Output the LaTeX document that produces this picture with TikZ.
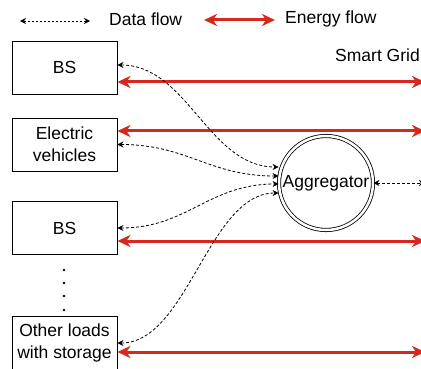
\documentclass[tikz,border=0pt]{standalone}
\usepackage{fontspec}
\setmainfont{Liberation Sans}
\definecolor{FlowRed}{RGB}{214,40,28}
\usetikzlibrary{positioning,arrows.meta,calc}
\tikzset{>=Stealth}
\tikzset{mytext/.style={font=\fontsize{17.5}{22}\selectfont}}
\tikzset{loadbox/.style={draw,line width=0.9pt,minimum width=105pt,minimum height=53pt,align=center,inner sep=1pt,mytext}}
\tikzset{aggnode/.style={circle,draw,line width=0.8pt,double,double distance=2.5pt,minimum size=94pt,inner sep=0pt,mytext}}
\tikzset{energyflow/.style={FlowRed,line width=3pt,{Stealth[length=13pt,width=12pt,inset=4pt]}-{Stealth[length=13pt,width=12pt,inset=4pt]}}}
\tikzset{dataflow/.style={line width=0.8pt,dash pattern=on 3pt off 2pt,{Stealth[length=6pt,width=6pt]}-{Stealth[length=6pt,width=6pt]}}}

\begin{document}
\begin{tikzpicture}[x=1pt, y=-1pt]
    \useasboundingbox (0,0) rectangle (421,369);
    % legend
    \coordinate (d1) at (20,21);
    \coordinate (d2) at (90,21);
    \coordinate (e1) at (204,20);
    \coordinate (e2) at (275,20);
    \draw[dataflow, dash pattern=on 2pt off 2pt] (d1) -- (d2);
    \draw[energyflow] (e1) -- (e2);
    \node[mytext, anchor=west, inner sep=0pt] (datalabel) at (109,19) {Data flow};
    \node[mytext, anchor=west, inner sep=0pt] (energylabel) at (285,19) {Energy flow};
    % loads
    \node[loadbox] (bs1) at (64.5,67.5) {BS};
    \node[loadbox] (ev) at (64.5,144.5) {Electric\\vehicles};
    \node[loadbox] (bs2) at (64.5,228) {BS};
    \node[loadbox] (other) at (64.5,343) {Other loads\\with storage};
    \foreach \y in {270,283,296,310}
        \fill (64,\y) circle (1.4pt);
    % aggregator and grid
    \node[aggnode] (agg) at (326,183) {Aggregator};
    \node[mytext, anchor=east, inner sep=0pt] (grid) at (420,55) {Smart Grid};
    \coordinate (g1) at (425,82);
    \coordinate (g2) at (425,131);
    \coordinate (g3) at (425,241);
    \coordinate (g4) at (425,352);
    \coordinate (g5) at (425,183);
    \draw[energyflow] ([yshift=-14.5pt]bs1.east) -- (g1);
    \draw[energyflow] ([yshift=13.5pt]ev.east) -- (g2);
    \draw[energyflow] ([yshift=-13pt]bs2.east) -- (g3);
    \draw[energyflow] ([yshift=-9pt]other.east) -- (g4);
    \draw[dataflow] (agg.east) -- (g5);
    % data links
    \coordinate (a1) at ([yshift=16pt]agg.west);
    \coordinate (a2) at ([yshift=7pt]agg.west);
    \coordinate (a3) at ([yshift=-1pt]agg.west);
    \coordinate (a4) at ([yshift=-10pt]agg.west);
    \draw[dataflow] ([yshift=2.5pt]bs1.east) .. controls +(70,0) and +(-70,0) .. (a1);
    \draw[dataflow] (ev.east) .. controls +(70,0) and +(-70,0) .. (a2);
    \draw[dataflow] (bs2.east) .. controls +(70,0) and +(-70,0) .. (a3);
    \draw[dataflow] (other.east) .. controls +(70,0) and +(-70,0) .. (a4);
\end{tikzpicture}
\end{document}
